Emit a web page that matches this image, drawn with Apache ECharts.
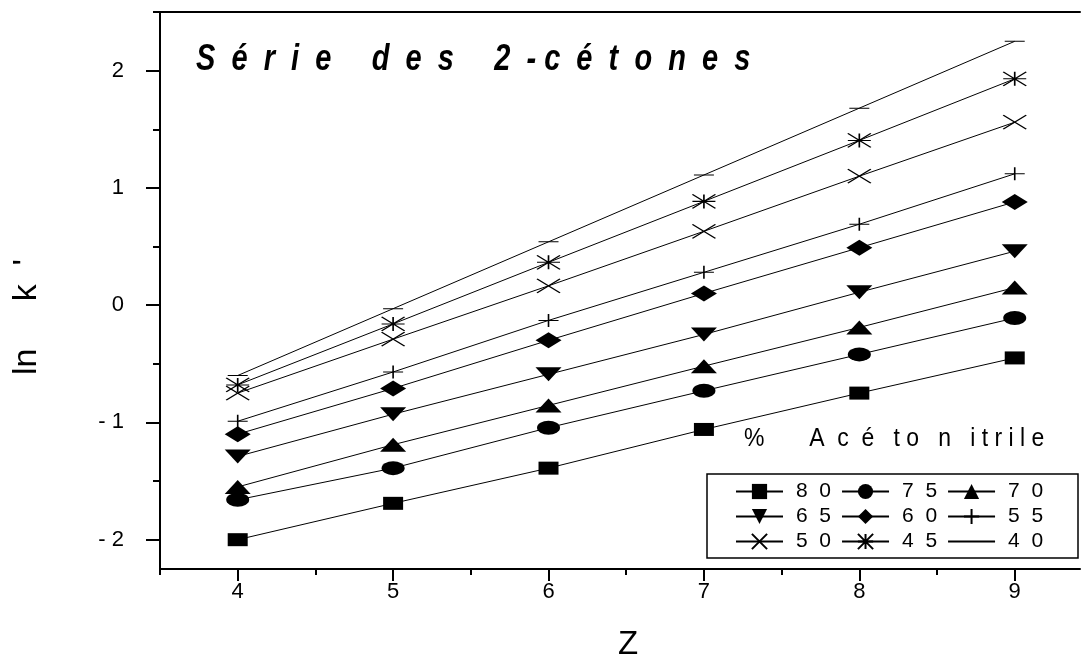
<!DOCTYPE html>
<html>
<head>
<meta charset="utf-8">
<script src="https://cdn.jsdelivr.net/npm/echarts@6/dist/echarts.min.js"></script>
<style>html,body{margin:0;padding:0;background:#fff}#c{width:1082px;height:662px}</style>
</head>
<body>
<div id="c"></div>
<script>
// ---- data ----
var zValues = [4, 5, 6, 7, 8, 9];
var seriesNames = ['80', '75', '70', '65', '60', '55', '50', '45', '40'];
var s80 = [-2.00, -1.69, -1.39, -1.06, -0.75, -0.45];
var s75 = [-1.66, -1.39, -1.045, -0.73, -0.42, -0.11];
var s70 = [-1.55, -1.19, -0.855, -0.52, -0.19, 0.15];
var s65 = [-1.29, -0.93, -0.59, -0.25, 0.11, 0.46];
var s60 = [-1.10, -0.71, -0.30, 0.10, 0.49, 0.88];
var s55 = [-0.99, -0.57, -0.13, 0.28, 0.69, 1.12];
var s50 = [-0.75, -0.29, 0.165, 0.63, 1.10, 1.56];
var s45 = [-0.68, -0.16, 0.365, 0.885, 1.405, 1.93];
var s40 = [-0.60, -0.03, 0.54, 1.11, 1.68, 2.25];
var xMajorTicks = [4, 5, 6, 7, 8, 9];
var xMinorTicks = [3.5, 4.5, 5.5, 6.5, 7.5, 8.5];
var yMajorTicks = [-2, -1, 0, 1, 2];
var yMinorTicks = [-1.5, -0.5, 0.5, 1.5, 2.5];
var titleText = 'S  é  r  i  e     d  e  s     2  - c  é  t  o  n  e  s';
var legendTitle = '%       A  c  é   t o   n   i t r i l e';
var yName = 'ln     k  \'';
var xName = 'Z';

var FONT = '"Liberation Sans", Arial, sans-serif';
var allData = [s80, s75, s70, s65, s60, s55, s50, s45, s40];

var ELLIPSE = 'path://M0,50 A50,50 0 1,1 100,50 A50,50 0 1,1 0,50 Z';
var PLUS = 'path://M10,0 L10,13 M0,6.5 L20,6.5';
var CROSS = 'path://M0,0 L20,13 M20,0 L0,13';
var STAR = 'path://M0,0 L20,13 M20,0 L0,13 M10,0 L10,13 M0,6.5 L20,6.5';
var DASH = 'path://M0,0 L0.01,0 L0,0.01 Z M0,13 L0.01,13 L0,12.99 Z M0,6 L20,6 L20,7 L0,7 Z';

var symbolDefs = [
  {symbol: 'rect', size: [20, 13], stroke: false},
  {symbol: ELLIPSE, size: [23, 14], stroke: false},
  {symbol: 'triangle', size: [26, 14], stroke: false},
  {symbol: 'triangle', size: [26, 14], stroke: false, rotate: 180},
  {symbol: 'diamond', size: [26, 16], stroke: false},
  {symbol: PLUS, size: [20, 13], stroke: true},
  {symbol: CROSS, size: [23, 14], stroke: true},
  {symbol: STAR, size: [23, 14], stroke: true},
  {symbol: DASH, size: [20, 13], stroke: false}
];

var series = seriesNames.map(function (name, i) {
  var d = symbolDefs[i];
  return {
    name: name,
    type: 'line',
    xAxisIndex: 0,
    yAxisIndex: 0,
    data: zValues.map(function (z, j) { return [z, allData[i][j]]; }),
    symbol: d.symbol,
    symbolSize: d.size,
    symbolRotate: d.rotate || 0,
    showSymbol: true,
    animation: false,
    lineStyle: {color: '#000', width: 1},
    itemStyle: d.stroke ?
      {color: 'rgba(0,0,0,0)', borderColor: '#000', borderWidth: 1.3} :
      {color: '#000', borderWidth: 0},
    emphasis: {disabled: true}
  };
});

function mkLegend(names, top) {
  return {
    data: names,
    left: 735,
    top: top,
    orient: 'horizontal',
    itemWidth: 47,
    itemHeight: 19,
    itemGap: 10,
    padding: 0,
    selectedMode: false,
    formatter: function (n) { return n.split('').join('  '); },
    textStyle: {fontFamily: FONT, fontSize: 21, color: '#000', padding: [0, 0, 0, 8]}
  };
}

var chart = echarts.init(document.getElementById('c'), null, {renderer: 'canvas'});
chart.setOption({
  backgroundColor: '#fff',
  animation: false,
  grid: {left: 160, right: 2, top: 12, bottom: 93},
  xAxis: [
    {
      type: 'value', min: 3.5, max: 9.42, position: 'bottom',
      axisLine: {show: true, onZero: false, lineStyle: {color: '#000', width: 2}},
      axisTick: {show: true, customValues: xMajorTicks, length: 12, lineStyle: {color: '#000', width: 2}},
      axisLabel: {customValues: xMajorTicks, margin: 12, fontFamily: FONT, fontSize: 22, color: '#000'},
      splitLine: {show: false}
    },
    {
      type: 'value', min: 3.5, max: 9.42, position: 'bottom',
      axisLine: {show: false, onZero: false},
      axisTick: {show: true, customValues: xMinorTicks, length: 6, lineStyle: {color: '#000', width: 2}},
      axisLabel: {show: false},
      splitLine: {show: false}
    },
    {
      type: 'value', min: 3.5, max: 9.42, position: 'top',
      axisLine: {show: true, onZero: false, lineStyle: {color: '#000', width: 2}},
      axisTick: {show: false},
      axisLabel: {show: false},
      splitLine: {show: false}
    }
  ],
  yAxis: [
    {
      type: 'value', min: -2.25, max: 2.5, position: 'left',
      axisLine: {show: true, onZero: false, lineStyle: {color: '#000', width: 2}},
      axisTick: {show: true, customValues: yMajorTicks, length: 14, lineStyle: {color: '#000', width: 2}},
      axisLabel: {
        customValues: yMajorTicks, margin: 36, fontFamily: FONT, fontSize: 22, color: '#000',
        formatter: function (v) { return v < 0 ? '- ' + Math.abs(v) : String(v); }
      },
      splitLine: {show: false}
    },
    {
      type: 'value', min: -2.25, max: 2.5, position: 'left',
      axisLine: {show: false, onZero: false},
      axisTick: {show: true, customValues: yMinorTicks, length: 7, lineStyle: {color: '#000', width: 2}},
      axisLabel: {show: false},
      splitLine: {show: false}
    }
  ],
  legend: [
    mkLegend(seriesNames.slice(0, 3), 481),
    mkLegend(seriesNames.slice(3, 6), 506),
    mkLegend(seriesNames.slice(6, 9), 531)
  ],
  graphic: [
    {type: 'rect', z: -1, shape: {x: 707, y: 474, width: 371, height: 84},
     style: {fill: '#fff', stroke: '#000', lineWidth: 1.5}},
    {type: 'text', x: 196, y: 60, scaleY: 1.25, style: {text: titleText, fontFamily: FONT, fontSize: 29,
      fontWeight: 'bold', fontStyle: 'italic', fill: '#000', verticalAlign: 'middle'}},
    {type: 'text', x: 744, y: 439, scaleY: 1.1, style: {text: legendTitle, fontFamily: FONT, fontSize: 23,
      fill: '#000', verticalAlign: 'middle'}},
    {type: 'text', x: 27, y: 317, rotation: Math.PI / 2, style: {text: yName, fontFamily: FONT,
      fontSize: 34, fill: '#000', align: 'center', verticalAlign: 'middle'}},
    {type: 'text', x: 628, y: 645, style: {text: xName, fontFamily: FONT, fontSize: 33,
      fill: '#000', align: 'center', verticalAlign: 'middle'}}
  ],
  series: series
});
</script>
</body>
</html>
